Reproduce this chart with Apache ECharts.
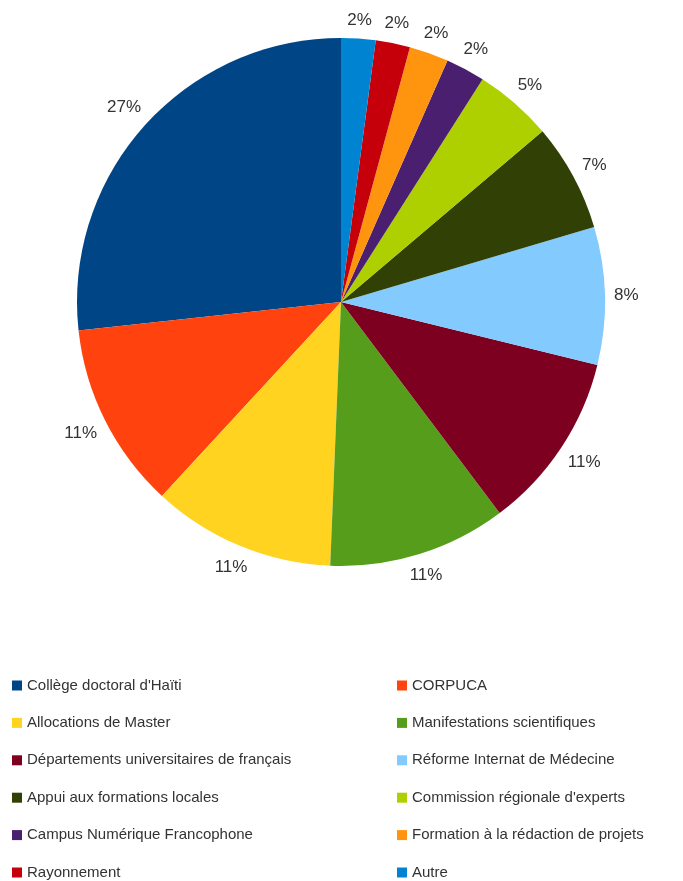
<!DOCTYPE html>
<html><head><meta charset="utf-8">
<script src="https://cdn.jsdelivr.net/npm/echarts@6/dist/echarts.min.js"></script>
<style>html,body{margin:0;padding:0;background:#fff}#c{width:683px;height:881px}</style>
</head><body><div id="c"></div>
<script>
const categories = ["Collège doctoral d'Haïti","CORPUCA","Allocations de Master","Manifestations scientifiques","Départements universitaires de français","Réforme Internat de Médecine","Appui aux formations locales","Commission régionale d'experts","Campus Numérique Francophone","Formation à la rédaction de projets","Rayonnement","Autre"];
const values = [26.7,11.4,11.2,10.9,10.9,8.4,6.6,4.8,2.4,2.4,2.1,2.1];
const colors = ["#004586","#ff420e","#ffd320","#579d1c","#7e0021","#83caff","#314004","#aecf00","#4b1f6f","#ff950e","#c5000b","#0084d1"];
const leftCol = categories.filter((c,i)=>i%2===0);
const rightCol = categories.filter((c,i)=>i%2===1);
const font = "'Liberation Sans', Arial, sans-serif";
const legendBase = {orient:'vertical', top:678, height:260, padding:0, icon:'rect', itemWidth:10, itemHeight:10, itemGap:22.4,
  textStyle:{fontFamily:font, fontSize:15, color:'#333', lineHeight:12}, selectedMode:false};
const chart = echarts.init(document.getElementById('c'));
const LABEL_GAP = 9;
chart.setOption({
  color: colors,
  animation:false,
  legend:[Object.assign({left:12, data:leftCol}, legendBase), Object.assign({left:397, data:rightCol}, legendBase)],
  series:[{
    type:'pie', center:[341,302], radius:264, startAngle:90, clockwise:false,
    avoidLabelOverlap:false,
    data: categories.map((n,i)=>({name:n, value:values[i]})),
    label:{show:true, position:'outside', fontFamily:font, fontSize:17, color:'#333',
      formatter: p=>Math.round(p.percent)+'%'},
    labelLine:{show:false, length:10, length2:0},
    labelLayout: function(p){
      const lay = chart.getModel().getSeriesByIndex(0).getData().getItemLayout(p.dataIndex);
      if(!lay) return {};
      const mid = (lay.startAngle + lay.endAngle)/2;
      const c = Math.cos(mid), s = Math.sin(mid);
      const R = lay.r + LABEL_GAP + Math.abs(c)*p.labelRect.width/2 + Math.abs(s)*p.labelRect.height/2;
      return {x: lay.cx + R*c, y: lay.cy + R*s, align:'center', verticalAlign:'middle'};
    },
    emphasis:{disabled:true}
  }]
});
</script></body></html>
